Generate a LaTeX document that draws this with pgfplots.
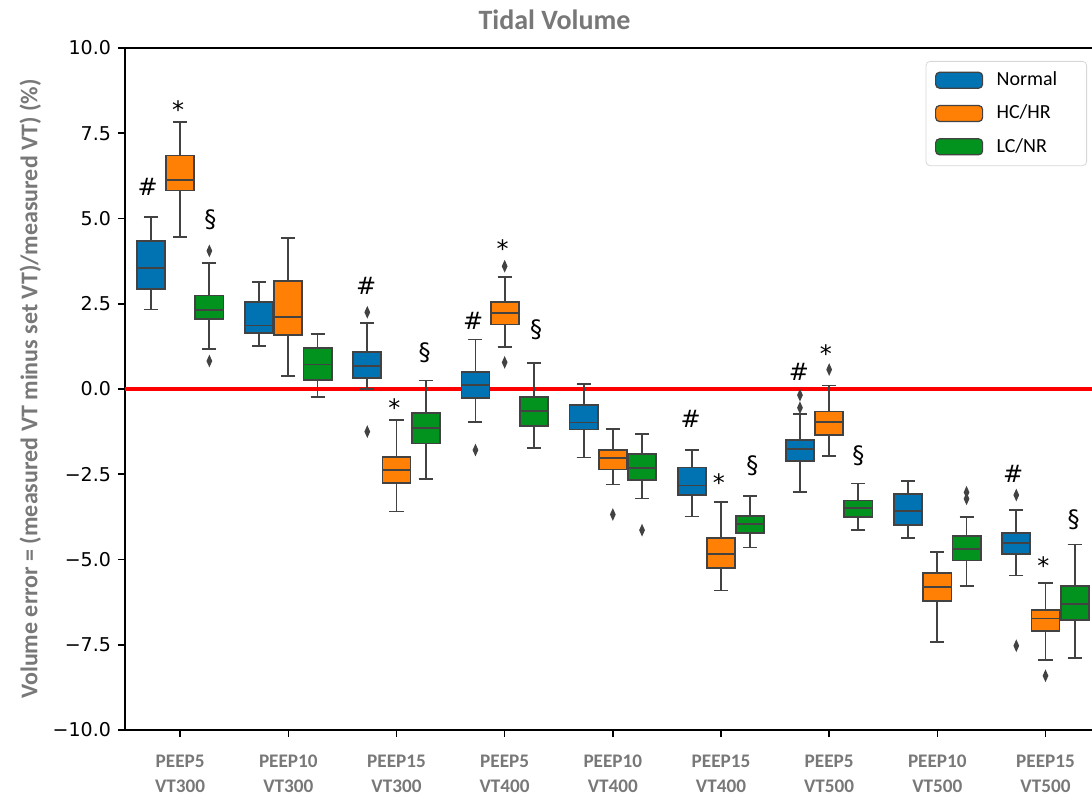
\documentclass[border=0pt]{standalone}
\usepackage{fontspec}
\setmainfont{Carlito}
\newfontfamily\djv{DejaVu Sans}
\usepackage{pgfplots}
\pgfplotsset{compat=1.18}
\usepgfplotslibrary{statistics}
\definecolor{cblue}{RGB}{1,114,178}
\definecolor{corange}{RGB}{255,128,5}
\definecolor{cgreen}{RGB}{2,146,30}
\definecolor{edge}{RGB}{66,66,66}
\definecolor{xgray}{RGB}{120,120,120}
\definecolor{lgray}{RGB}{215,215,215}
\pgfplotsset{
  bx/.style={boxplot prepared, draw=edge, line width=0.9pt, fill=#1, solid,
    mark=diamond*, mark size=2.1pt, mark options={fill=edge, draw=edge, xscale=0.6}, forget plot},
}
\begin{document}
\begin{tikzpicture}
\begin{axis}[
  scale only axis, width=483.5pt, height=341pt,
  xmin=-0.51, xmax=8.43, ymin=-10, ymax=10,
  axis x line*=bottom, axis y line*=left,
  axis line style={black, line width=1pt},
  ytick={-10,-7.5,-5,-2.5,0,2.5,5,7.5,10},
  yticklabels={−10.0,−7.5,−5.0,−2.5,0.0,2.5,5.0,7.5,10.0},
  yticklabel style={font=\djv\fontsize{9.5}{11}\selectfont, text=black},
  xtick={0,1,2,3,4,5,6,7,8},
  xticklabels={{PEEP5\\VT300},{PEEP10\\VT300},{PEEP15\\VT300},{PEEP5\\VT400},{PEEP10\\VT400},{PEEP15\\VT400},{PEEP5\\VT500},{PEEP10\\VT500},{PEEP15\\VT500}},
  xticklabel style={align=center, font=\bfseries\fontsize{9.6}{12.5}\selectfont, text=xgray, yshift=-5.3pt},
  tick align=outside, major tick length=3.5pt, tick style={black, line width=0.8pt},
  ylabel={Volume error = (measured VT minus set VT)/measured VT) (\%)},
  ylabel style={font=\bfseries\fontsize{12}{14}\selectfont, text=xgray, yshift=-1pt},
  boxplot/draw direction=y,
  boxplot/box extend=0.26, boxplot/whisker extend=0.13,
  legend style={at={(rel axis cs:1,1)}, anchor=north east, xshift=-2.5pt, yshift=-6.5pt,
    draw=lgray, rounded corners=2pt, font=\fontsize{10}{12}\selectfont,
    row sep=4.2pt, inner xsep=4.5pt, inner ysep=3.2pt, cells={anchor=west},
    nodes={text width=38.5pt}},
  legend image code/.code={\draw[#1] (0pt,-4pt) rectangle (23.5pt,4pt); \path[draw=none, fill=none] (0pt,0pt) -- (28.5pt,0pt);},
]
% red zero line
\addplot[red, line width=1.6pt, forget plot] coordinates {(-0.6,0) (8.6,0)};
% Group 0
\addplot[bx=cblue, boxplot prepared={draw position=-0.27, lower whisker=2.33, lower quartile=2.93, median=3.55, upper quartile=4.34, upper whisker=5.05}] coordinates {};
\addplot[bx=corange, boxplot prepared={draw position=0, lower whisker=4.46, lower quartile=5.82, median=6.14, upper quartile=6.85, upper whisker=7.82}] coordinates {};
\addplot[bx=cgreen, boxplot prepared={draw position=0.27, lower whisker=1.18, lower quartile=2.06, median=2.32, upper quartile=2.74, upper whisker=3.69}] coordinates {(0,4.05) (0,0.82)};
% Group 1
\addplot[bx=cblue, boxplot prepared={draw position=0.73, lower whisker=1.26, lower quartile=1.64, median=1.86, upper quartile=2.55, upper whisker=3.13}] coordinates {};
\addplot[bx=corange, boxplot prepared={draw position=1, lower whisker=0.37, lower quartile=1.59, median=2.11, upper quartile=3.17, upper whisker=4.43}] coordinates {};
\addplot[bx=cgreen, boxplot prepared={draw position=1.27, lower whisker=-0.23, lower quartile=0.26, median=0.72, upper quartile=1.20, upper whisker=1.61}] coordinates {};
% Group 2
\addplot[bx=cblue, boxplot prepared={draw position=1.73, lower whisker=0.0, lower quartile=0.33, median=0.67, upper quartile=1.08, upper whisker=1.93}] coordinates {(0,2.25) (0,-1.25)};
\addplot[bx=corange, boxplot prepared={draw position=2, lower whisker=-3.59, lower quartile=-2.76, median=-2.38, upper quartile=-1.99, upper whisker=-0.91}] coordinates {};
\addplot[bx=cgreen, boxplot prepared={draw position=2.27, lower whisker=-2.63, lower quartile=-1.60, median=-1.14, upper quartile=-0.70, upper whisker=0.25}] coordinates {};
% Group 3
\addplot[bx=cblue, boxplot prepared={draw position=2.73, lower whisker=-0.96, lower quartile=-0.27, median=0.12, upper quartile=0.51, upper whisker=1.45}] coordinates {(0,-1.79)};
\addplot[bx=corange, boxplot prepared={draw position=3, lower whisker=1.24, lower quartile=1.89, median=2.24, upper quartile=2.55, upper whisker=3.29}] coordinates {(0,3.60) (0,0.78)};
\addplot[bx=cgreen, boxplot prepared={draw position=3.27, lower whisker=-1.72, lower quartile=-1.08, median=-0.65, upper quartile=-0.24, upper whisker=0.76}] coordinates {};
% Group 4
\addplot[bx=cblue, boxplot prepared={draw position=3.73, lower whisker=-2.01, lower quartile=-1.19, median=-0.98, upper quartile=-0.48, upper whisker=0.14}] coordinates {};
\addplot[bx=corange, boxplot prepared={draw position=4, lower whisker=-2.80, lower quartile=-2.36, median=-2.03, upper quartile=-1.79, upper whisker=-1.18}] coordinates {(0,-3.68)};
\addplot[bx=cgreen, boxplot prepared={draw position=4.27, lower whisker=-3.21, lower quartile=-2.66, median=-2.31, upper quartile=-1.90, upper whisker=-1.33}] coordinates {(0,-4.14)};
% Group 5
\addplot[bx=cblue, boxplot prepared={draw position=4.73, lower whisker=-3.74, lower quartile=-3.10, median=-2.83, upper quartile=-2.30, upper whisker=-1.78}] coordinates {};
\addplot[bx=corange, boxplot prepared={draw position=5, lower whisker=-5.91, lower quartile=-5.25, median=-4.85, upper quartile=-4.38, upper whisker=-3.32}] coordinates {};
\addplot[bx=cgreen, boxplot prepared={draw position=5.27, lower whisker=-4.65, lower quartile=-4.22, median=-3.97, upper quartile=-3.73, upper whisker=-3.13}] coordinates {};
% Group 6
\addplot[bx=cblue, boxplot prepared={draw position=5.73, lower whisker=-3.03, lower quartile=-2.12, median=-1.75, upper quartile=-1.50, upper whisker=-0.74}] coordinates {(0,-0.18) (0,-0.55)};
\addplot[bx=corange, boxplot prepared={draw position=6, lower whisker=-1.96, lower quartile=-1.34, median=-0.96, upper quartile=-0.66, upper whisker=0.10}] coordinates {(0,0.57)};
\addplot[bx=cgreen, boxplot prepared={draw position=6.27, lower whisker=-4.14, lower quartile=-3.75, median=-3.48, upper quartile=-3.27, upper whisker=-2.77}] coordinates {};
% Group 7
\addplot[bx=cblue, boxplot prepared={draw position=6.73, lower whisker=-4.36, lower quartile=-4.00, median=-3.58, upper quartile=-3.08, upper whisker=-2.69}] coordinates {};
\addplot[bx=corange, boxplot prepared={draw position=7, lower whisker=-7.42, lower quartile=-6.22, median=-5.81, upper quartile=-5.40, upper whisker=-4.77}] coordinates {};
\addplot[bx=cgreen, boxplot prepared={draw position=7.27, lower whisker=-5.77, lower quartile=-5.03, median=-4.69, upper quartile=-4.31, upper whisker=-3.75}] coordinates {(0,-3.03) (0,-3.22)};
% Group 8
\addplot[bx=cblue, boxplot prepared={draw position=7.73, lower whisker=-5.47, lower quartile=-4.85, median=-4.51, upper quartile=-4.23, upper whisker=-3.54}] coordinates {(0,-3.11) (0,-7.53)};
\addplot[bx=corange, boxplot prepared={draw position=8, lower whisker=-7.94, lower quartile=-7.09, median=-6.73, upper quartile=-6.47, upper whisker=-5.70}] coordinates {(0,-8.41)};
\addplot[bx=cgreen, boxplot prepared={draw position=8.27, lower whisker=-7.89, lower quartile=-6.78, median=-6.30, upper quartile=-5.77, upper whisker=-4.56}] coordinates {};
% legend
\addlegendimage{fill=cblue, draw=edge, line width=0.6pt}
\addlegendentry{Normal}
\addlegendimage{fill=corange, draw=edge, line width=0.6pt}
\addlegendentry{HC/HR}
\addlegendimage{fill=cgreen, draw=edge, line width=0.6pt}
\addlegendentry{LC/NR}
% annotations
\begin{scope}[every node/.style={font=\djv\fontsize{12}{14}\selectfont, text=black, inner sep=0pt}]
\node at (axis cs:-0.30,5.92) {\#};
\node at (axis cs:-0.02,8.20) {*};
\node at (axis cs:0.28,4.96) {\S};
\node at (axis cs:1.72,3.02) {\#};
\node at (axis cs:1.98,-0.54) {*};
\node at (axis cs:2.26,1.06) {\S};
\node at (axis cs:2.71,2.00) {\#};
\node at (axis cs:2.98,4.12) {*};
\node at (axis cs:3.29,1.73) {\S};
\node at (axis cs:4.72,-0.88) {\#};
\node at (axis cs:4.98,-2.74) {*};
\node at (axis cs:5.29,-2.26) {\S};
\node at (axis cs:5.72,0.50) {\#};
\node at (axis cs:5.97,1.04) {*};
\node at (axis cs:6.27,-1.96) {\S};
\node at (axis cs:7.70,-2.49) {\#};
\node at (axis cs:7.98,-5.17) {*};
\node at (axis cs:8.26,-3.84) {\S};
\end{scope}
\coordinate (BL) at (rel axis cs:0,0);
\coordinate (TR) at (rel axis cs:1,1);
\coordinate (TL) at (rel axis cs:0,1);
\end{axis}
\draw[black, line width=1pt] (TL) -- (TR);
\node[font=\bfseries\fontsize{14}{16}\selectfont, text=xgray] at ([xshift=214.75pt, yshift=14pt]TL) {Tidal Volume};
\pgfresetboundingbox
\path[use as bounding box] ([xshift=-62.5pt, yshift=-33pt]BL) rectangle ([yshift=24pt]TR);
\end{tikzpicture}
\end{document}
